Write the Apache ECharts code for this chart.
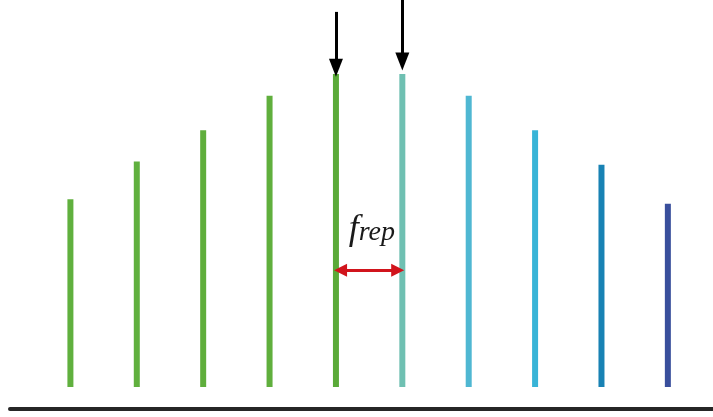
<!DOCTYPE html>
<html>
<head>
<meta charset="utf-8">
<script src="https://cdn.jsdelivr.net/npm/echarts@6/dist/echarts.min.js"></script>
<style>
  html, body { margin: 0; padding: 0; background: #ffffff; }
  #chart { width: 713px; height: 417px; }
</style>
</head>
<body>
<div id="chart"></div>
<script>
// Frequency comb: mode index and relative amplitude of each comb line
const modeIndex = [1, 2, 3, 4, 5, 6, 7, 8, 9, 10];
const amplitude = [0.60, 0.72, 0.82, 0.93, 1.00, 1.00, 0.93, 0.82, 0.71, 0.585];
// the two neighbouring modes that are picked out and the spacing label
const pickedModes = [5, 6];
const spacingLabel = 'f';
const spacingSub = 'rep';

const lineColors = ['#60b03e', '#60b03e', '#5fae3c', '#60af3d', '#5aaa38',
                    '#6fc0b2', '#4fb7d2', '#38b4d7', '#1882b4', '#394f9c'];

const chart = echarts.init(document.getElementById('chart'), null, { renderer: 'canvas' });

const combData = modeIndex.map((m, i) => ({
  value: [m, amplitude[i]],
  itemStyle: { color: lineColors[i] }
}));

const peak = Math.max(...amplitude);
const mid = (pickedModes[0] + pickedModes[1]) / 2;

chart.setOption({
  animation: false,
  backgroundColor: '#ffffff',
  grid: { left: 10, right: 0, top: 0, bottom: 8 },
  xAxis: {
    type: 'value',
    min: 0.09,
    max: 10.68,
    axisLine: { show: true, onZero: false, lineStyle: { color: '#262626', width: 4 } },
    axisTick: { show: false },
    axisLabel: { show: false },
    splitLine: { show: false }
  },
  yAxis: {
    type: 'value',
    min: -0.07,
    max: 1.236,
    show: false,
    splitLine: { show: false }
  },
  series: [{
    type: 'bar',
    barWidth: 6,
    data: combData,
    markLine: {
      silent: true,
      animation: false,
      label: { show: false },
      data: [
        // pointers above the two picked modes
        [
          { coord: [pickedModes[0], peak * 1.198], symbol: 'none' },
          { coord: [pickedModes[0], peak * 1.02], symbol: 'triangle', symbolSize: [14, 18] }
        ],
        [
          { coord: [pickedModes[1], peak * 1.236], symbol: 'none' },
          { coord: [pickedModes[1], peak * 1.04], symbol: 'triangle', symbolSize: [14, 18] }
        ],
        // spacing between neighbouring modes
        [
          { coord: [pickedModes[0] + 0.07, 0.373], symbol: 'triangle', symbolSize: [13, 13],
            lineStyle: { color: '#d1141c', width: 3, type: 'solid' } },
          { coord: [pickedModes[1] - 0.07, 0.373], symbol: 'triangle', symbolSize: [13, 13],
            lineStyle: { color: '#d1141c', width: 3, type: 'solid' } }
        ]
      ],
      lineStyle: { color: '#000000', width: 3, type: 'solid' },
      itemStyle: { color: '#000000' }
    },
    markPoint: {
      silent: true,
      symbol: 'circle',
      symbolSize: 0,
      itemStyle: { color: 'rgba(0,0,0,0)' },
      data: [{
        coord: [mid + 0.04, 0.511],
        label: {
          show: true,
          position: 'inside',
          formatter: '{f|' + spacingLabel + '}{s|' + spacingSub + '}',
          rich: {
            f: { fontFamily: 'Liberation Serif', fontStyle: 'italic', fontSize: 36, color: '#1a1a1a',
                 verticalAlign: 'bottom', lineHeight: 40 },
            s: { fontFamily: 'Liberation Serif', fontStyle: 'italic', fontSize: 28, color: '#1a1a1a',
                 verticalAlign: 'bottom', lineHeight: 22 }
          }
        }
      }]
    }
  }]
});
</script>
</body>
</html>
